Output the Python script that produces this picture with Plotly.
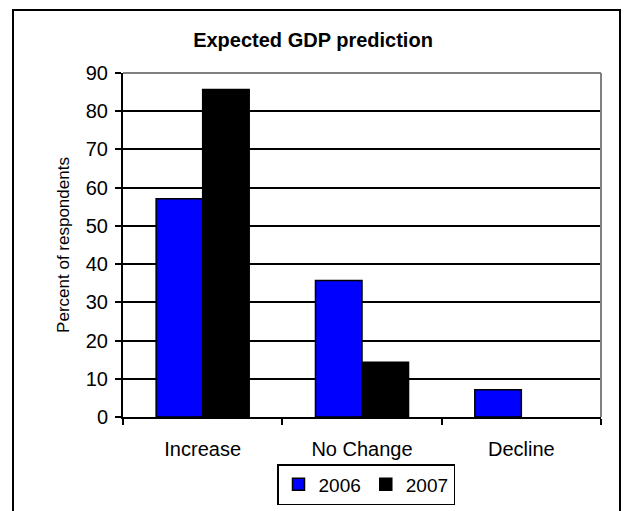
import plotly.graph_objects as go

# Survey results: share of respondents expecting each GDP outcome
categories = ["Increase", "No Change", "Decline"]
years = ["2006", "2007"]
pct_2006 = [57.1, 35.7, 7.1]
pct_2007 = [85.7, 14.3, 0.0]
y_ticks = [0, 10, 20, 30, 40, 50, 60, 70, 80, 90]

W, H = 625, 511
L, R, T, B = 123, 24, 73, 94          # plot-area margins in px
PW, PH = W - L - R, H - T - B
FONT = "Liberation Sans, Arial, sans-serif"


def px_x(x):
    return (x - L) / PW


def px_y(y):
    return (H - B - y) / PH


def outline(values):
    # no outline on empty bars so nothing is drawn at zero
    return [1.5 if v > 0 else 0 for v in values]


fig = go.Figure()
fig.add_trace(go.Bar(
    x=categories, y=pct_2006, name=years[0],
    marker=dict(color="#0000FF", line=dict(color="#000000", width=outline(pct_2006))),
))
fig.add_trace(go.Bar(
    x=categories, y=pct_2007, name=years[1],
    marker=dict(color="#000000", line=dict(color="#000000", width=outline(pct_2007))),
))

fig.update_layout(
    width=W, height=H,
    margin=dict(l=L, r=R, t=T, b=B, autoexpand=False),
    paper_bgcolor="white", plot_bgcolor="white",
    font=dict(family=FONT, color="black", size=20),
    barmode="group", bargap=0.416, bargroupgap=0,
    title=dict(text="<b>Expected GDP prediction</b>",
               font=dict(family=FONT, size=20, color="black"),
               x=313 / W, xref="container", xanchor="center",
               y=1 - 40 / H, yref="container", yanchor="middle"),
    legend=dict(orientation="h", xref="container", yref="container",
                x=366 / W, xanchor="center",
                y=1 - 464 / H, yanchor="top",
                bordercolor="black", borderwidth=1.5, bgcolor="white",
                font=dict(family=FONT, size=19, color="black"),
                itemwidth=30, tracegroupgap=0, traceorder="normal"),
    xaxis=dict(type="category", showgrid=False, showline=True,
               linecolor="black", linewidth=2,
               ticks="outside", tickson="boundaries", ticklen=6,
               tickcolor="black", tickwidth=1.5,
               ticklabelstandoff=13, automargin=False,
               tickfont=dict(family=FONT, size=20, color="black")),
    yaxis=dict(range=[0, 90], tickvals=y_ticks, showgrid=True,
               gridcolor="black", gridwidth=1.5,
               showline=True, linecolor="black", linewidth=2,
               ticks="outside", ticklen=6, tickcolor="black", tickwidth=1.5,
               ticklabelstandoff=3, zeroline=False, automargin=False,
               tickfont=dict(family=FONT, size=20, color="black")),
    showlegend=True,
)

fig.update_yaxes(title=dict(text="Percent of respondents", standoff=12,
                            font=dict(family=FONT, size=17, color="black")))

# Gray plot-area frame on top and right
fig.add_shape(type="line", xref="x domain", yref="y domain",
              x0=0, x1=1, y0=1, y1=1,
              line=dict(color="#808080", width=2), layer="above")
fig.add_shape(type="line", xref="x domain", yref="y domain",
              x0=1, x1=1, y0=0, y1=1,
              line=dict(color="#808080", width=2), layer="above")

# Outer chart border
fig.add_shape(type="rect", xref="paper", yref="paper",
              x0=px_x(13), x1=px_x(620), y0=px_y(530), y1=px_y(10),
              line=dict(color="black", width=2), layer="below")

fig.write_html("out.html")
